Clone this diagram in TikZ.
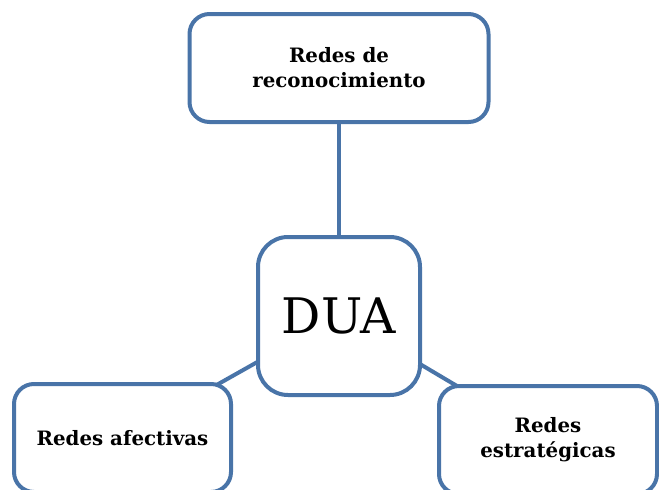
\documentclass[tikz,border=0pt]{standalone}
\usepackage{fontspec}
\setmainfont{DejaVu Serif}
\usetikzlibrary{positioning,backgrounds}
\definecolor{duablue}{RGB}{73,116,168}
\begin{document}
\begin{tikzpicture}[x=1pt,y=-1pt,
rama/.style={draw=duablue,line width=4pt,rounded corners=20pt,fill=white,align=center,minimum height=108pt,font=\fontsize{19.8}{25}\selectfont\bfseries},
hub/.style={draw=duablue,line width=4pt,rounded corners=30pt,fill=white,minimum width=162pt,minimum height=158pt,font=\fontsize{49}{56}\selectfont},
link/.style={draw=duablue,line width=4pt}]
\useasboundingbox(0,0)rectangle(659,490);
\clip(0,0)rectangle(659,490);
\node[hub](dua) at (339,316){DUA};
\node[rama,minimum width=299pt,above=111pt of dua](recon){Redes de\\reconocimiento};
\node[rama,minimum width=217pt](afect) at (122.5,438){Redes afectivas};
\node[rama,minimum width=218pt](estrat) at (548,440){Redes\\estratégicas};
\begin{scope}[on background layer]
\draw[link](dua.center)--(recon.center);\draw[link](dua.center)--(afect.center);\draw[link](dua.center)--(estrat.center);
\end{scope}
\end{tikzpicture}
\end{document}
